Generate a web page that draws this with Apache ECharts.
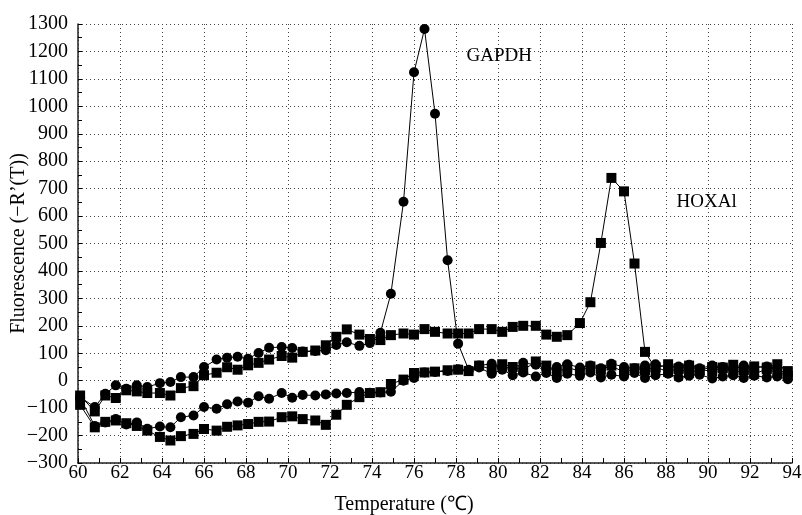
<!DOCTYPE html>
<html>
<head>
<meta charset="utf-8">
<script src="https://cdn.jsdelivr.net/npm/echarts@6/dist/echarts.min.js"></script>
<style>
  html, body { margin: 0; padding: 0; background: #fff; }
  #chart { width: 802px; height: 515px; }
</style>
</head>
<body>
<div id="chart"></div>
<script>
// melt curve temperatures (°C), shared by all wells
var temps = [60.1,60.8,61.3,61.8,62.3,62.8,63.3,63.9,64.4,64.9,
             65.5,66.0,66.6,67.1,67.6,68.1,68.6,69.1,69.7,70.2,
             70.7,71.3,71.8,72.3,72.8,73.4,73.9,74.4,74.9,75.5,
             76.0,76.5,77.0,77.6,78.1,78.6,79.1,79.7,80.2,80.7,
             81.2,81.8,82.3,82.8,83.3,83.9,84.4,84.9,85.4,86.0,
             86.5,87.0,87.5,88.1,88.6,89.1,89.6,90.2,90.7,91.2,
             91.7,92.2,92.8,93.3,93.8];

// -R'(T) for each curve
var gapdh = [-60,-96,-48,-17,-29,-17,-23,-9,-5,13,
             13,50,77,84,87,80,101,120,123,119,
             106,108,111,130,140,127,137,175,317,652,
             1124,1282,973,439,135,40,55,62,50,45,
             65,58,42,50,60,48,55,45,62,50,
             45,55,60,48,52,58,45,55,50,42,
             55,48,52,45,20];
var hoxa1 = [-54,-112,-54,-63,-35,-39,-45,-45,-54,-27,
             -20,20,29,49,40,56,65,77,90,84,
             105,110,129,160,187,168,152,148,166,172,
             168,188,178,172,172,172,188,188,178,196,
             200,200,168,160,166,210,286,502,739,690,
             427,105,45,60,42,55,38,50,45,58,
             40,52,48,60,35];
var lowCircle = [-63,-165,-152,-140,-160,-152,-175,-167,-170,-133,
                 -127,-96,-102,-86,-76,-80,-57,-66,-45,-62,
                 -52,-54,-50,-47,-45,-41,-44,-43,-40,0,
                 10,30,32,35,42,36,48,25,40,20,
                 30,15,28,10,25,18,30,12,22,15,
                 28,10,20,25,12,18,22,8,15,20,
                 10,18,12,15,5];
var lowSquare = [-88,-170,-150,-145,-155,-165,-182,-205,-218,-202,
                 -194,-176,-182,-168,-163,-158,-150,-149,-133,-130,
                 -140,-145,-161,-124,-88,-60,-45,-42,-12,4,
                 28,30,33,38,40,35,55,42,60,50,
                 38,70,55,30,48,35,52,40,55,30,
                 45,38,50,32,45,28,40,35,48,30,
                 38,25,42,30,20];

var xTicks = [60, 94, 2];     // min, max, step
var yTicks = [-300, 1300, 100];

var serif = '"Liberation Serif", "Times New Roman", serif';

function pairs(ys) {
  return temps.map(function (t, i) { return [t, ys[i]]; });
}

function curve(name, ys, symbol, size) {
  return {
    name: name,
    type: 'line',
    data: pairs(ys),
    symbol: symbol,
    symbolSize: size,
    lineStyle: { color: '#000', width: 1 },
    itemStyle: { color: '#000' },
    z: 3
  };
}

var chart = echarts.init(document.getElementById('chart'));

var seriesList = [
  curve('lowSquare', lowSquare, 'rect', 10),
  curve('lowCircle', lowCircle, 'circle', 10),
  curve('HOXAl', hoxa1, 'rect', 10),
  curve('GAPDH', gapdh, 'circle', 10)
];

// curve labels placed in data coordinates
seriesList[3].markPoint = {
  symbol: 'circle', symbolSize: 0, silent: true,
  label: { show: true, position: 'right', distance: 0, formatter: 'GAPDH',
           color: '#000', fontFamily: serif, fontSize: 19 },
  data: [{ coord: [78.5, 1184] }]
};
seriesList[2].markPoint = {
  symbol: 'circle', symbolSize: 0, silent: true,
  label: { show: true, position: 'right', distance: 0, formatter: 'HOXAl',
           color: '#000', fontFamily: serif, fontSize: 19 },
  data: [{ coord: [88.5, 650] }]
};

var option = {
  animation: false,
  backgroundColor: '#fff',
  grid: { left: 78, right: 10, top: 24, bottom: 52, containLabel: false, outerBoundsMode: 'none' },
  xAxis: {
    type: 'value',
    min: xTicks[0], max: xTicks[1], interval: xTicks[2],
    name: 'Temperature (℃)',
    nameLocation: 'middle',
    nameGap: 32,
    nameMoveOverlap: false,
    nameTextStyle: { color: '#000', fontFamily: serif, fontSize: 20, padding: [0, 62, 0, 0] },
    axisLine: { onZero: false, lineStyle: { color: '#222', width: 1.5 } },
    axisTick: { show: true, inside: true, length: 5, lineStyle: { color: '#000' } },
    minorTick: { show: true, splitNumber: 2, length: 5, lineStyle: { color: '#000' } },
    axisLabel: { color: '#000', fontFamily: serif, fontSize: 19, margin: 1 },
    splitLine: { show: true, lineStyle: { color: '#444', type: [1, 3], width: 1 } }
  },
  yAxis: {
    type: 'value',
    min: yTicks[0], max: yTicks[1], interval: yTicks[2],
    name: 'Fluorescence (−R’(T))',
    nameLocation: 'middle',
    nameGap: 49,
    nameMoveOverlap: false,
    nameTextStyle: { color: '#000', fontFamily: serif, fontSize: 20 },
    axisLine: { show: true, lineStyle: { color: '#222', width: 1.5 } },
    axisTick: { show: true, inside: true, length: 4, lineStyle: { color: '#000' } },
    minorTick: { show: true, splitNumber: 2, length: 4, lineStyle: { color: '#000' } },
    axisLabel: {
      color: '#000', fontFamily: serif, fontSize: 20, margin: 10,
      formatter: function (v) { return String(v).replace('-', '−'); }
    },
    splitLine: { show: true, lineStyle: { color: '#444', type: [1, 3], width: 1 } }
  },
  series: seriesList
};

chart.setOption(option);
</script>
</body>
</html>
